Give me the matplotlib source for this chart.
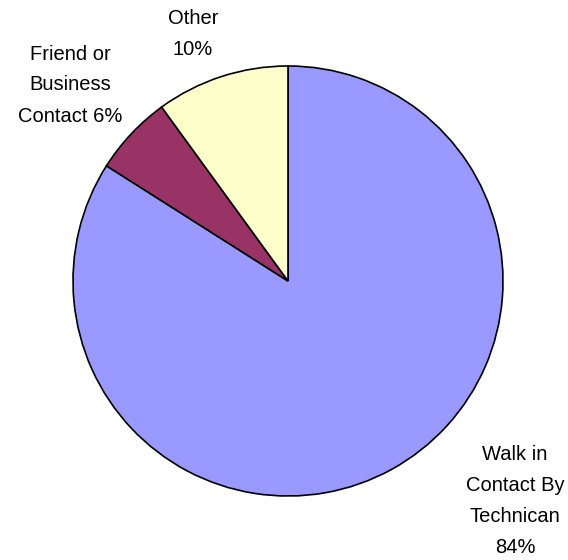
import matplotlib as mpl
mpl.rcParams['font.family'] = ['Liberation Sans', 'DejaVu Sans']

import matplotlib.pyplot as plt

names = ["Walk in\nContact By\nTechnican", "Friend or\nBusiness\nContact", "Other"]
shares = [84, 6, 10]
colors = ["#9999FF", "#993366", "#FFFFCC"]

# label block centres in pixels, y measured from the top
label_pos = [(515, 501), (70, 85), (193, 34)]
sep = ["\n", " ", "\n"]

W, H = 568, 560
fig = plt.figure(figsize=(W / 100, H / 100), dpi=100)
ax = fig.add_axes([0, 0, 1, 1])

ax.pie(shares, colors=colors, startangle=90, counterclock=False,
       center=(288, H - 281), radius=215,
       wedgeprops=dict(edgecolor='black', linewidth=1.2))
ax.set_xlim(0, W)
ax.set_ylim(0, H)
ax.set_aspect('equal')
ax.axis('off')

for (x, y), n, v, s in zip(label_pos, names, shares, sep):
    ax.text(x, H - y, f"{n}{s}{v}%", ha='center', va='center',
            fontsize=14.5, linespacing=1.8)

plt.savefig("out.png", dpi=100)
